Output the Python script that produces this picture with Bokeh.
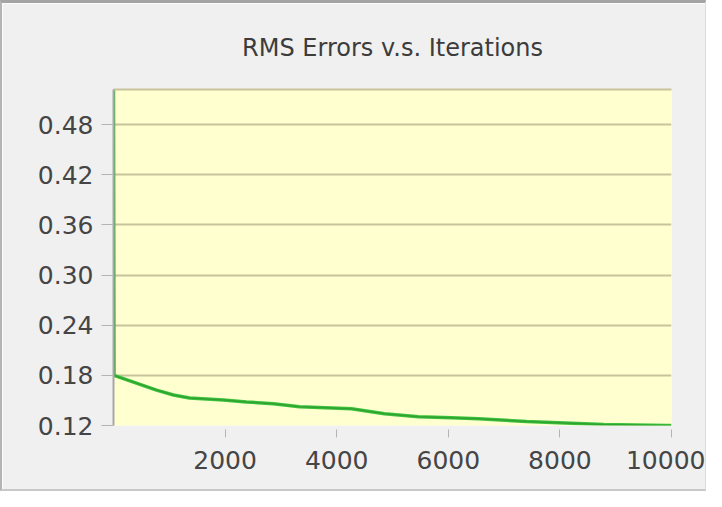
from bokeh.plotting import figure
from bokeh.models import (ColumnDataSource, FixedTicker, LinearAxis, Range1d,
                          NumeralTickFormatter, Title)
from bokeh.embed import file_html
from bokeh.resources import INLINE

# Data
iterations = [0, 10, 770, 1075, 1362, 1971, 2384, 2867, 3333, 4265, 4857,
              5466, 6057, 6541, 7401, 8781, 9910, 10000]
rms_error = [0.522, 0.180, 0.1624, 0.1565, 0.1529, 0.1506, 0.1482, 0.1459,
             0.1424, 0.1400, 0.1341, 0.1306, 0.1294, 0.1282, 0.1247, 0.1212,
             0.1200, 0.1200]
y_ticks = [0.12, 0.18, 0.24, 0.30, 0.36, 0.42, 0.48]
x_ticks = [2000, 4000, 6000, 8000, 10000]
title_text = "RMS Errors v.s. Iterations"

FONT = "DejaVu Sans"

p = figure(width=706, height=491, output_backend="svg", toolbar_location=None,
           x_range=Range1d(0, 10000), y_range=Range1d(0.12, 0.522),
           min_border_left=111, min_border_right=37,
           min_border_top=86, min_border_bottom=69)

p.title = Title(text=title_text, align="center", text_font=FONT,
                text_font_size="24px", text_font_style="normal",
                text_color="#3c3c3c", offset=-20, standoff=56)

p.background_fill_color = "#ffffd0"
p.border_fill_color = "#f0f0f0"
p.outline_line_color = None

# grid
p.xgrid.grid_line_color = None
p.ygrid.ticker = FixedTicker(ticks=y_ticks)
p.ygrid.grid_line_color = "#c8c39c"
p.ygrid.grid_line_width = 2

# y axis
ya = p.yaxis[0]
ya.ticker = FixedTicker(ticks=y_ticks)
ya.formatter = NumeralTickFormatter(format="0.00")
ya.axis_line_color = "#a8a8a8"
ya.axis_line_width = 2
ya.major_tick_line_color = "#b4b4b4"
ya.major_tick_line_width = 1
ya.major_tick_out = 12
ya.major_tick_in = 0
ya.minor_tick_line_color = None
ya.major_label_text_font = FONT
ya.major_label_text_font_size = "25px"
ya.major_label_text_color = "#454545"
ya.major_label_standoff = 8

# x axis
xa = p.xaxis[0]
xa.ticker = FixedTicker(ticks=x_ticks)
xa.formatter = NumeralTickFormatter(format="0")
xa.axis_line_color = None
xa.major_tick_line_color = "#b4b4b4"
xa.major_tick_line_width = 1
xa.major_tick_out = 12
xa.major_tick_in = -4
xa.minor_tick_line_color = None
xa.major_label_text_font = FONT
xa.major_label_text_font_size = "25px"
xa.major_label_text_color = "#454545"
xa.major_label_standoff = 13

# top border line
top = LinearAxis(ticker=FixedTicker(ticks=[]), major_label_text_font_size="0px",
                 axis_line_color="#c8c39c", axis_line_width=2,
                 major_tick_line_color=None, minor_tick_line_color=None)
p.add_layout(top, "above")

src = ColumnDataSource(dict(x=iterations, y=rms_error))
p.line("x", "y", source=src, line_color="#3cc43c", line_width=3.5)
p.line("x", "y", source=src, line_color="#2a8a2a", line_width=1.5, line_alpha=0.6)

p.styles = {"border-top": "3px solid #a4a4a4", "border-left": "2px solid #b4b4b4",
            "border-bottom": "2px solid #c8c8c8", "border-right": "1px solid #dcdcdc",
            "box-sizing": "border-box"}

open("out.html", "w").write(file_html(p, INLINE))
